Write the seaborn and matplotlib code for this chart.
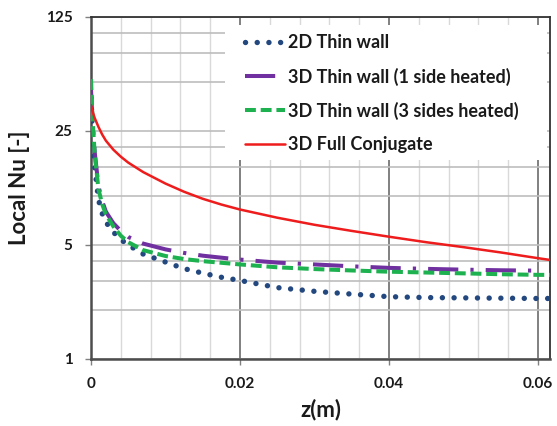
import numpy as np
import pandas as pd
import matplotlib
matplotlib.use("Agg")
import matplotlib.pyplot as plt
import seaborn as sns
from matplotlib.ticker import FixedLocator, NullFormatter
from matplotlib.patches import Rectangle

# ---- data ----
z = [0, 0.0002, 0.0005, 0.001, 0.0015, 0.002, 0.003, 0.004, 0.005, 0.007, 0.01,
     0.0125, 0.015, 0.0175, 0.02, 0.025, 0.03, 0.035, 0.04, 0.045, 0.05, 0.055,
     0.06, 0.0616]
nu_2d = [40, 24, 15, 9.5, 7.8, 6.9, 6.0, 5.4, 5.0, 4.4, 3.93,
         3.58, 3.36, 3.17, 3.03, 2.74, 2.6, 2.5, 2.41, 2.38, 2.37, 2.36,
         2.35, 2.35]
z_1side = z[:-1]
nu_1side = [45, 29, 18.5, 11.5, 9.3, 8.0, 6.8, 6.1, 5.6, 5.1, 4.7,
            4.47, 4.3, 4.18, 4.07, 3.9, 3.8, 3.7, 3.62, 3.57, 3.53, 3.5,
            3.48]
nu_3side = [52, 30, 18, 11, 8.9, 7.7, 6.5, 5.7, 5.2, 4.65, 4.28,
            4.1, 3.98, 3.89, 3.8, 3.65, 3.56, 3.49, 3.43, 3.39, 3.35, 3.31,
            3.28, 3.28]
nu_conj = [36, 33, 30, 26.5, 23.8, 21.8, 19.2, 17.4, 16.0, 14.0, 11.9,
           10.6, 9.6, 8.85, 8.25, 7.35, 6.65, 6.1, 5.62, 5.2, 4.85, 4.5,
           4.15, 4.05]

labels = ["2D Thin wall", "3D Thin wall (1 side heated)",
          "3D Thin wall (3 sides heated)", "3D Full Conjugate"]
yticks = [1, 5, 25, 125]
ytick_labels = ["1", "5", "25", "125"]
xticks = [0, 0.02, 0.04, 0.06]
xtick_labels = ["0", "0.02", "0.04", "0.06"]

sns.set_theme(style="white")
plt.rcParams["font.family"] = ["Lato", "DejaVu Sans"]
plt.rcParams["font.weight"] = "bold"

fig = plt.figure(figsize=(5.57, 4.26), dpi=100)
ax = fig.add_axes([91/557, 1-359/426, 459/557, 342/426])

df2d = pd.DataFrame({"z": z, "nu": nu_2d})
df1 = pd.DataFrame({"z": z_1side, "nu": nu_1side})
df3 = pd.DataFrame({"z": z, "nu": nu_3side})
dfc = pd.DataFrame({"z": z, "nu": nu_conj})

sns.lineplot(data=df2d, x="z", y="nu", ax=ax, color="#23487f", lw=3.9,
             linestyle=(0, (0.01, 2.15)), dash_capstyle="round",
             estimator=None, label=labels[0], zorder=3)
sns.lineplot(data=df1, x="z", y="nu", ax=ax, color="#7030a0", lw=2.9,
             linestyle=(0, (7.5, 3, 0.8, 3)), dash_capstyle="butt",
             estimator=None, label=labels[1], zorder=4)
sns.lineplot(data=df3, x="z", y="nu", ax=ax, color="#1db14f", lw=2.9,
             linestyle=(0, (2.7, 1.2)), dash_capstyle="butt",
             estimator=None, label=labels[2], zorder=5)
sns.lineplot(data=dfc, x="z", y="nu", ax=ax, color="#ee1c1c", lw=1.8,
             estimator=None, label=labels[3], zorder=6)

ax.set_yscale("log", base=5)
ax.set_ylim(1, 125)
ax.set_xlim(0, 0.0616)
ax.set_yticks(yticks)
ax.set_yticklabels(ytick_labels)
ax.yaxis.set_minor_locator(FixedLocator([2, 3, 4, 10, 15, 20, 50, 75, 100]))
ax.yaxis.set_minor_formatter(NullFormatter())
ax.set_xticks(xticks)
ax.set_xticklabels(xtick_labels)
ax.xaxis.set_minor_locator(FixedLocator([0.004, 0.008, 0.012, 0.016, 0.024, 0.028,
                                         0.032, 0.036, 0.044, 0.048, 0.052, 0.056]))

ax.set_axisbelow(True)
ax.grid(which="major", axis="x", color="#808080", lw=1.4)
ax.grid(which="minor", axis="x", color="#d9d9d9", lw=1.0)
ax.grid(which="both", axis="y", color="#bdbdbd", lw=1.2)

ax.tick_params(which="major", direction="out", length=4.3, width=1, color="#808080",
               labelsize=11, pad=9, bottom=True, left=True, labelcolor="#1a1a1a")
ax.tick_params(which="minor", length=0)
for lab in ax.get_xticklabels() + ax.get_yticklabels():
    lab.set_fontweight("bold")

for s in ["left", "bottom"]:
    ax.spines[s].set_color("#4d4d4d")
    ax.spines[s].set_linewidth(1.8)
for s in ["top", "right"]:
    ax.spines[s].set_color("#333333")
    ax.spines[s].set_linewidth(1.3)

ax.set_ylabel("Local Nu [-]", fontsize=16, fontweight="bold", labelpad=11, color="#1a1a1a")
ax.set_xlabel("z(m)", fontsize=16, fontweight="bold", labelpad=5, color="#1a1a1a")

# white legend background
ax.add_patch(Rectangle((0.292, 0.582), 0.701, 0.395, transform=ax.transAxes,
                       facecolor="white", edgecolor="none", zorder=1.5))
leg = ax.legend(loc="upper left", bbox_to_anchor=(0.3355, 0.949), frameon=False,
                fontsize=13, handlelength=2.2, handletextpad=0.2,
                labelspacing=0.89, borderpad=0, borderaxespad=0)
for t in leg.get_texts():
    t.set_fontweight("bold")
    t.set_color("#1a1a1a")

fig.savefig("out.png", dpi=100)
